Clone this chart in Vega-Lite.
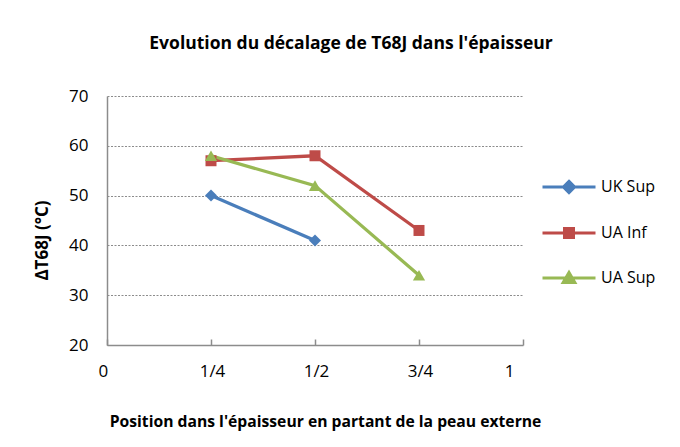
{
  "$schema": "https://vega.github.io/schema/vega-lite/v6.json",
  "autosize": {"type": "none"},
  "width": 416,
  "height": 249,
  "padding": {"left": 107, "top": 96, "right": 157, "bottom": 102},
  "background": "white",
  "config": {
    "font": "Open Sans",
    "view": {"stroke": null},
    "legend": {
      "orient": "none",
      "legendX": 434,
      "legendY": 63,
      "labelFont": "Open Sans",
      "labelFontSize": 16,
      "labelColor": "#000000",
      "symbolSize": 2809,
      "symbolStrokeWidth": 3,
      "symbolOpacity": 1,
      "rowPadding": 6
    }
  },
  "title": {
    "text": "Evolution du décalage de T68J dans l'épaisseur",
    "font": "Open Sans",
    "fontSize": 17.5,
    "fontWeight": "bold",
    "color": "#000000",
    "anchor": "middle",
    "frame": "group",
    "baseline": "alphabetic",
    "offset": 21,
    "dx": 36
  },
  "data": {
    "values": [
      {"series": "UK Sup", "pos": 0.25, "dt": 50},
      {"series": "UK Sup", "pos": 0.5, "dt": 41},
      {"series": "UA Inf", "pos": 0.25, "dt": 57},
      {"series": "UA Inf", "pos": 0.5, "dt": 58},
      {"series": "UA Inf", "pos": 0.75, "dt": 43},
      {"series": "UA Sup", "pos": 0.25, "dt": 58},
      {"series": "UA Sup", "pos": 0.5, "dt": 52},
      {"series": "UA Sup", "pos": 0.75, "dt": 34}
    ]
  },
  "encoding": {
    "x": {
      "field": "pos",
      "type": "quantitative",
      "scale": {"domain": [0, 1], "nice": false, "zero": false},
      "axis": {
        "values": [0, 0.25, 0.5, 0.75, 1],
        "labelExpr": "datum.value == 0 ? '0' : datum.value == 0.25 ? '1/4' : datum.value == 0.5 ? '1/2' : datum.value == 0.75 ? '3/4' : '1'",
        "grid": false,
        "domainColor": "#8c8c8c",
        "domainWidth": 1.5,
        "tickColor": "#8c8c8c",
        "tickWidth": 1.5,
        "tickSize": -6,
        "labelFont": "Open Sans",
        "labelFontSize": 17,
        "labelColor": "#000000",
        "labelPadding": 24,
        "labelOffset": {"condition": {"test": "datum.value == 0 || datum.value == 1", "value": -9}, "value": 1},
        "title": "Position dans l'épaisseur en partant de la peau externe",
        "titleFont": "Open Sans",
        "titleFontSize": 15.7,
        "titleFontWeight": "bold",
        "titleColor": "#000000",
        "titleX": 218,
        "titleY": 81,
        "titleBaseline": "alphabetic",
        "titleAnchor": "middle"
      }
    },
    "y": {
      "field": "dt",
      "type": "quantitative",
      "scale": {"domain": [20, 70], "nice": false, "zero": false},
      "axis": {
        "values": [20, 30, 40, 50, 60, 70],
        "grid": true,
        "gridColor": "#8c8c8c",
        "gridDash": [2, 1.5],
        "gridWidth": 1.2,
        "ticks": false,
        "domainColor": "#8c8c8c",
        "domainWidth": 1.5,
        "labelFont": "Open Sans",
        "labelFontSize": 17,
        "labelColor": "#000000",
        "labelPadding": 19,
        "title": "ΔT68J (°C)",
        "titleFont": "Open Sans",
        "titleFontSize": 17,
        "titleFontWeight": "bold",
        "titleColor": "#000000",
        "titleAngle": -90,
        "titleX": -65,
        "titleY": 144,
        "titleBaseline": "middle",
        "titleAlign": "center"
      }
    },
    "color": {
      "field": "series",
      "type": "nominal",
      "scale": {"domain": ["UK Sup", "UA Inf", "UA Sup"], "range": ["#4A7EBB", "#BE4B48", "#98B954"]},
      "legend": {"title": null}
    }
  },
  "layer": [
    {
      "mark": {"type": "line", "strokeWidth": 3.25}
    },
    {
      "transform": [{"filter": "datum.series == 'UK Sup'"}],
      "mark": {"type": "point", "filled": true, "opacity": 1, "size": 144, "shape": "diamond"}
    },
    {
      "transform": [{"filter": "datum.series == 'UA Inf'"}],
      "mark": {"type": "point", "filled": true, "opacity": 1, "size": 121, "shape": "square"}
    },
    {
      "transform": [{"filter": "datum.series == 'UA Sup'"}],
      "mark": {"type": "point", "filled": true, "opacity": 1, "size": 150, "shape": "triangle-up"}
    },
    {
      "transform": [{"filter": "datum.dt > 1000"}],
      "mark": {"type": "point", "filled": true, "opacity": 1, "size": 2809, "strokeWidth": 3},
      "encoding": {
        "stroke": {
          "field": "series",
          "type": "nominal",
          "scale": {"domain": ["UK Sup", "UA Inf", "UA Sup"], "range": ["#4A7EBB", "#BE4B48", "#98B954"]},
          "legend": {"title": null}
        },
        "shape": {
          "field": "series",
          "type": "nominal",
          "scale": {
            "domain": ["UK Sup", "UA Inf", "UA Sup"],
            "range": [
              "M-1,0H1M0,-0.21L0.21,0L0,0.21L-0.21,0Z",
              "M-1,0H1M-0.17,-0.17H0.17V0.17H-0.17Z",
              "M-1,0H1M0,-0.21L0.22,0.17H-0.22Z"
            ]
          },
          "legend": {"title": null}
        }
      }
    }
  ]
}
